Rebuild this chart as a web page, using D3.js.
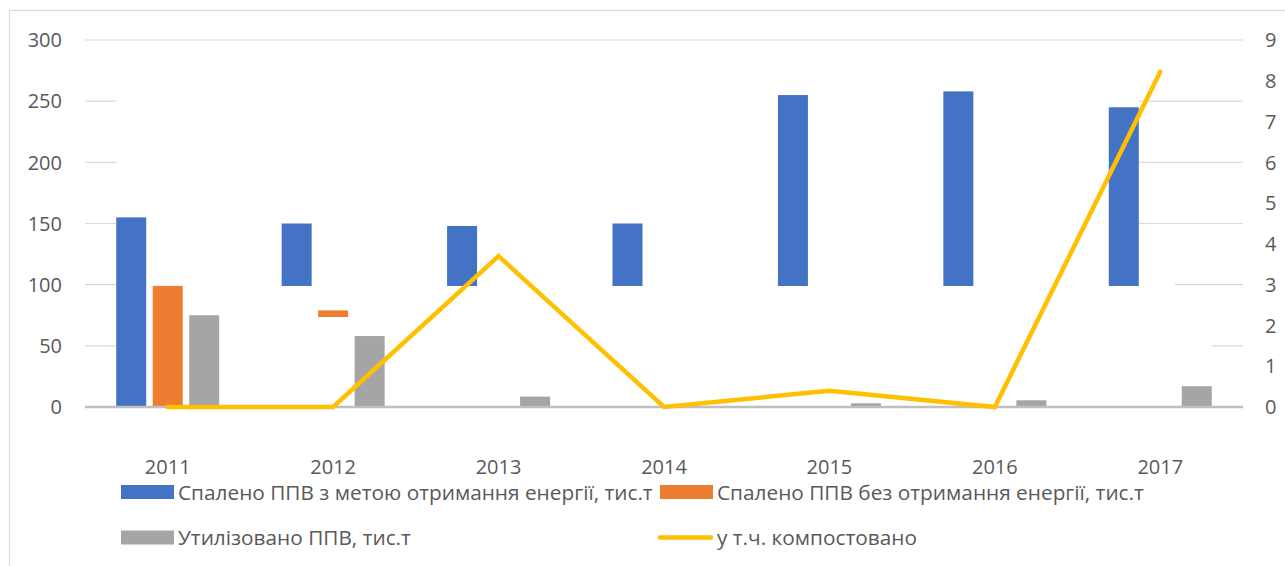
<!DOCTYPE html>
<html>
<head>
<meta charset="utf-8">
<script src="https://cdn.jsdelivr.net/npm/d3@7"></script>
<style>
  html, body { margin: 0; padding: 0; background: #fff; }
  svg text { font-family: "Open Sans", "Noto Sans", sans-serif; fill: #595959; }
</style>
</head>
<body>
<svg id="chart" width="1285" height="566"></svg>
<script>
// Years on the category axis
const years = ["2011", "2012", "2013", "2014", "2015", "2016", "2017"];
// Waste burned for energy recovery, thousand t
const burnedEnergy = [155, 150, 148, 150, 255, 258, 245];
// Waste burned without energy recovery, thousand t
const burnedNoEnergy = [99, 79, 0, 0, 0, 0, 0];
// Waste disposed, thousand t
const disposed = [75, 58, 8.5, 0, 3, 5.5, 17];
// Of which composted (right axis)
const composted = [0, 0, 3.7, 0, 0.4, 0, 8.22];

const leftTicks = [0, 50, 100, 150, 200, 250, 300];
const rightTicks = [0, 1, 2, 3, 4, 5, 6, 7, 8, 9];

const seriesNames = [
  "Спалено ППВ з метою отримання енергії, тис.т",
  "Спалено ППВ без отримання енергії, тис.т",
  "Утилізовано ППВ, тис.т",
  "у т.ч. компостовано"
];
const colors = ["#4472C4", "#ED7D31", "#A5A5A5", "#FFC000"];

const svg = d3.select("#chart");
const W = 1285, H = 566;
const plot = { left: 85, right: 1243, top: 40, bottom: 407 };

// chart frame
svg.append("rect")
  .attr("x", 9.5).attr("y", 10.5)
  .attr("width", W + 20).attr("height", H + 20)
  .attr("fill", "#fff").attr("stroke", "#D9D9D9").attr("stroke-width", 1.2);

const x = d3.scaleBand().domain(years).range([plot.left, plot.right]);
const y = d3.scaleLinear().domain([0, 300]).range([plot.bottom, plot.top]);
const y2 = d3.scaleLinear().domain([0, 9]).range([plot.bottom, plot.top]);

const barKeys = ["energy", "noEnergy", "disposed"];
const xs = d3.scaleBand().domain(barKeys)
  .range([x.bandwidth() / 2 - 51.5, x.bandwidth() / 2 + 51.5])
  .paddingInner(0.178);

// gridlines
svg.append("g")
  .selectAll("line")
  .data(leftTicks.filter(t => t > 0))
  .join("line")
  .attr("x1", plot.left).attr("x2", plot.right)
  .attr("y1", d => y(d)).attr("y2", d => y(d))
  .attr("stroke", "#D9D9D9").attr("stroke-width", 1.2);

// blank panels: one set beneath the bars, one set above them
const underPanels = [
  [116, 45, 1139, 406],
  [1139, 280, 1175, 406]
];
const overPanels = [
  [222, 286, 318, 406],
  [318, 286, 350, 309],
  [318, 317, 350, 406],
  [350, 286, 1175, 406],
  [1175, 290, 1212, 406]
];
function panels(list) {
  svg.append("g").selectAll("rect").data(list).join("rect")
    .attr("x", d => d[0]).attr("y", d => d[1])
    .attr("width", d => d[2] - d[0]).attr("height", d => d[3] - d[1])
    .attr("fill", "#fff");
}
panels(underPanels);

function bars(values, key, color) {
  svg.append("g")
    .selectAll("rect")
    .data(values.map((v, i) => ({ year: years[i], v })).filter(d => d.v > 0))
    .join("rect")
    .attr("x", d => x(d.year) + xs(key))
    .attr("width", xs.bandwidth())
    .attr("y", d => y(d.v))
    .attr("height", d => y(0) - y(d.v))
    .attr("fill", color);
}
bars(burnedEnergy, "energy", colors[0]);
bars(burnedNoEnergy, "noEnergy", colors[1]);
panels(overPanels);
bars(disposed, "disposed", colors[2]);

// category axis line
svg.append("line")
  .attr("x1", plot.left).attr("x2", plot.right)
  .attr("y1", y(0)).attr("y2", y(0))
  .attr("stroke", "#BFBFBF").attr("stroke-width", 2.6);

// composted line on the secondary axis
const line = d3.line()
  .x((d, i) => x(years[i]) + x.bandwidth() / 2)
  .y(d => y2(d));
svg.append("path")
  .datum(composted)
  .attr("d", line)
  .attr("fill", "none")
  .attr("stroke", colors[3])
  .attr("stroke-width", 4.5)
  .attr("stroke-linejoin", "miter")
  .attr("stroke-linecap", "round");

// axis labels
const fs = 20;
svg.append("g").selectAll("text").data(leftTicks).join("text")
  .attr("x", 62).attr("y", d => y(d)).attr("dy", "0.36em")
  .attr("text-anchor", "end").attr("font-size", fs)
  .text(d => d);

svg.append("g").selectAll("text").data(rightTicks).join("text")
  .attr("x", 1265).attr("y", d => y2(d)).attr("dy", "0.36em")
  .attr("text-anchor", "start").attr("font-size", fs)
  .text(d => d);

svg.append("g").selectAll("text").data(years).join("text")
  .attr("x", d => x(d) + x.bandwidth() / 2).attr("y", 467).attr("dy", "0.36em")
  .attr("text-anchor", "middle").attr("font-size", fs)
  .text(d => d);

// legend
const legendItems = [
  { name: seriesNames[0], color: colors[0], type: "rect", x: 121, y: 492 },
  { name: seriesNames[1], color: colors[1], type: "rect", x: 660, y: 492 },
  { name: seriesNames[2], color: colors[2], type: "rect", x: 121, y: 537.5 },
  { name: seriesNames[3], color: colors[3], type: "line", x: 660, y: 537.5 }
];
const lg = svg.append("g").selectAll("g").data(legendItems).join("g")
  .attr("transform", d => `translate(${d.x},${d.y})`);
lg.filter(d => d.type === "rect").append("rect")
  .attr("x", 0).attr("y", -7).attr("width", 53).attr("height", 14)
  .attr("fill", d => d.color);
lg.filter(d => d.type === "line").append("line")
  .attr("x1", 0).attr("x2", 51).attr("y1", 0).attr("y2", 0)
  .attr("stroke", d => d.color).attr("stroke-width", 4.5)
  .attr("stroke-linecap", "round");
lg.append("text")
  .attr("x", 57)
  .attr("y", 0).attr("dy", "0.36em")
  .attr("font-size", 20.8)
  .text(d => d.name);
</script>
</body>
</html>
